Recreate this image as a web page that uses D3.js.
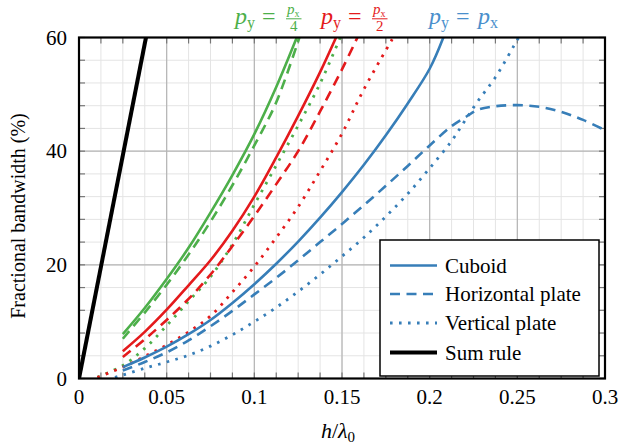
<!DOCTYPE html>
<html><head><meta charset="utf-8">
<script src="https://cdn.jsdelivr.net/npm/d3@7"></script>
<style>body{margin:0;background:#fff} svg{display:block}</style>
</head><body><svg id="c" width="621" height="448"></svg>
<script>
// ---------- data ----------
const xTicks = [0, 0.05, 0.1, 0.15, 0.2, 0.25, 0.3];
const xTickLabels = ["0", "0.05", "0.1", "0.15", "0.2", "0.25", "0.3"];
const yTicks = [0, 20, 40, 60];
const yTickLabels = ["0", "20", "40", "60"];

const sumRule = [[0,0],[0.0382,60]];

const greenCuboid = [[0.025,7.8],[0.0375,12.4],[0.05,17.5],[0.0625,23.0],[0.075,29.2],[0.0875,35.8],[0.1,43.0],[0.1125,51.3],[0.1242,60]];
const greenHoriz = [[0.025,7.0],[0.0375,11.6],[0.05,16.5],[0.0625,21.8],[0.075,27.6],[0.0875,34.0],[0.1,41.0],[0.1125,48.6],[0.1257,60]];
const greenVert = [[0.0105,0.2],[0.025,2.3],[0.0375,5.3],[0.05,9.3],[0.0625,13.6],[0.075,17.9],[0.0875,23.6],[0.1,30.6],[0.1125,37.5],[0.125,44.5],[0.1375,51.9],[0.149,60]];

const redCuboid = [[0.025,4.8],[0.0375,8.2],[0.05,12.1],[0.0625,16.4],[0.075,20.8],[0.0875,26.0],[0.1,32.0],[0.1125,38.9],[0.125,46.2],[0.1375,53.9],[0.1466,60]];
const redHoriz = [[0.025,3.8],[0.0375,6.9],[0.05,10.3],[0.0625,14.0],[0.075,18.3],[0.0875,23.3],[0.1,28.6],[0.1125,34.2],[0.125,40.0],[0.1375,47.0],[0.15,54.4],[0.1588,60]];
const redVert = [[0.0105,0.2],[0.025,2.0],[0.0375,3.9],[0.05,5.9],[0.0625,8.2],[0.075,11.0],[0.0875,15.2],[0.1,19.7],[0.1125,24.8],[0.125,30.2],[0.1375,36.5],[0.15,43.1],[0.1625,50.9],[0.1792,60]];

const blueCuboid = [[0.025,2.0],[0.0375,3.7],[0.05,5.6],[0.0625,7.8],[0.075,10.3],[0.0875,13.3],[0.1,16.6],[0.1125,20.2],[0.125,24.1],[0.1375,28.3],[0.15,32.8],[0.1625,37.6],[0.175,42.8],[0.1875,48.4],[0.2,54.5],[0.2078,60]];
const blueHoriz = [[0.025,1.4],[0.0375,2.9],[0.05,4.6],[0.0625,6.7],[0.075,9.2],[0.0875,11.9],[0.1,14.8],[0.1125,17.7],[0.125,20.8],[0.1375,24.0],[0.15,27.2],[0.1625,30.5],[0.175,33.9],[0.1875,37.4],[0.2,41.0],[0.2125,44.4],[0.221,46.1],[0.2275,47.3],[0.2375,47.9],[0.25,48.1],[0.2625,47.8],[0.275,46.9],[0.2875,45.5],[0.3,43.7]];
const blueVert = [[0.0205,0.2],[0.025,0.6],[0.0375,1.8],[0.05,2.9],[0.0625,4.1],[0.075,5.7],[0.0875,7.7],[0.1,10.0],[0.1125,12.5],[0.125,15.3],[0.1375,18.3],[0.15,21.5],[0.1625,24.8],[0.175,28.5],[0.1875,32.5],[0.2,37.0],[0.2125,41.8],[0.22,45.3],[0.2275,48.8],[0.2375,53.0],[0.25,59.6],[0.2508,60]];

const legendLabels = ["Cuboid", "Horizontal plate", "Vertical plate", "Sum rule"];

// ---------- font: pick an installed serif face ----------
function pickFont() {
  const cands = ["Liberation Serif", "Times New Roman", "Times", "Tinos", "Nimbus Roman", "Nimbus Roman No9 L", "FreeSerif", "DejaVu Serif", "Noto Serif", "Georgia"];
  const ctx = document.createElement("canvas").getContext("2d");
  const s = "Fractional bandwidth 0.05 Horizontal";
  ctx.font = "40px monospace"; const mono = ctx.measureText(s).width;
  ctx.font = "40px sans-serif"; const sans = ctx.measureText(s).width;
  for (const c of cands) {
    ctx.font = "40px '" + c + "', monospace"; const w1 = ctx.measureText(s).width;
    ctx.font = "40px '" + c + "', sans-serif"; const w2 = ctx.measureText(s).width;
    if (w1 !== mono && w2 !== sans) return "'" + c + "', serif";
  }
  return "serif";
}
const FONT = pickFont();

// ---------- styles ----------
const GREEN = "#4daf4a", RED = "#e41a1c", BLUE = "#377eb8";
const DASH = "10,6.5", DOT = "2.6,6.4";
const series = [
  {d: greenCuboid, c: GREEN, dash: null},
  {d: greenHoriz, c: GREEN, dash: DASH},
  {d: greenVert, c: GREEN, dash: DOT},
  {d: redCuboid, c: RED, dash: null},
  {d: redHoriz, c: RED, dash: DASH},
  {d: redVert, c: RED, dash: DOT},
  {d: blueCuboid, c: BLUE, dash: null},
  {d: blueHoriz, c: BLUE, dash: DASH},
  {d: blueVert, c: BLUE, dash: DOT},
];

const svg = d3.select("#c").attr("font-family", FONT);
const L = 79, R = 605, T = 37.5, B = 378.5;
const x = d3.scaleLinear().domain([0, 0.3]).range([L, R]);
const y = d3.scaleLinear().domain([0, 60]).range([B, T]);

// grid
const xMinor = d3.range(0, 0.3001, 0.0125);
const yMinor = d3.range(0, 60.01, 4);
const g = svg.append("g");
g.selectAll(".xm").data(xMinor).enter().append("line")
  .attr("x1", d => x(d)).attr("x2", d => x(d)).attr("y1", T).attr("y2", B)
  .attr("stroke", "#e4e4e4").attr("stroke-width", 1);
g.selectAll(".ym").data(yMinor).enter().append("line")
  .attr("y1", d => y(d)).attr("y2", d => y(d)).attr("x1", L).attr("x2", R)
  .attr("stroke", "#e4e4e4").attr("stroke-width", 1);
g.selectAll(".xM").data(xTicks).enter().append("line")
  .attr("x1", d => x(d)).attr("x2", d => x(d)).attr("y1", T).attr("y2", B)
  .attr("stroke", "#b4b4b4").attr("stroke-width", 1.2);
g.selectAll(".yM").data(yTicks).enter().append("line")
  .attr("y1", d => y(d)).attr("y2", d => y(d)).attr("x1", L).attr("x2", R)
  .attr("stroke", "#b4b4b4").attr("stroke-width", 1.2);

// ticks inside on all sides
const tk = svg.append("g").attr("stroke", "#777").attr("stroke-width", 1.2);
xMinor.forEach(v => {
  tk.append("line").attr("x1", x(v)).attr("x2", x(v)).attr("y1", B).attr("y2", B - 6);
  tk.append("line").attr("x1", x(v)).attr("x2", x(v)).attr("y1", T).attr("y2", T + 6);
});
yMinor.forEach(v => {
  tk.append("line").attr("y1", y(v)).attr("y2", y(v)).attr("x1", L).attr("x2", L + 6);
  tk.append("line").attr("y1", y(v)).attr("y2", y(v)).attr("x1", R).attr("x2", R - 6);
});

// clip
svg.append("clipPath").attr("id", "clip").append("rect")
  .attr("x", L).attr("y", T).attr("width", R - L).attr("height", B - T);

const line = d3.line().x(d => x(d[0])).y(d => y(d[1])).curve(d3.curveCatmullRom.alpha(0.5));
const plot = svg.append("g").attr("clip-path", "url(#clip)");
series.forEach(s => {
  plot.append("path").attr("d", line(s.d)).attr("fill", "none")
    .attr("stroke", s.c).attr("stroke-width", s.dash === DOT ? 2.8 : 2.6)
    .attr("stroke-dasharray", s.dash);
});
plot.append("path").attr("d", d3.line().x(d => x(d[0])).y(d => y(d[1]))(sumRule)).attr("fill", "none")
  .attr("stroke", "#000").attr("stroke-width", 4);

// legend
const lg = svg.append("g");
lg.append("rect").attr("x", 380).attr("y", 240).attr("width", 219).attr("height", 136)
  .attr("fill", "#fff").attr("stroke", "#000").attr("stroke-width", 1.5);
const legStyles = [
  {c: BLUE, dash: null, w: 2.6}, {c: BLUE, dash: DASH, w: 2.6},
  {c: BLUE, dash: DOT, w: 2.8}, {c: "#000", dash: null, w: 4}
];
const rowY = [265.5, 294, 323, 352.5];
legendLabels.forEach((t, i) => {
  lg.append("line").attr("x1", 390).attr("x2", 437).attr("y1", rowY[i]).attr("y2", rowY[i])
    .attr("stroke", legStyles[i].c).attr("stroke-width", legStyles[i].w)
    .attr("stroke-dasharray", legStyles[i].dash);
  lg.append("text").attr("x", 445).attr("y", rowY[i] + 7).attr("font-size", 21).text(t);
});

// frame
svg.append("rect").attr("x", L).attr("y", T).attr("width", R - L).attr("height", B - T)
  .attr("fill", "none").attr("stroke", "#000").attr("stroke-width", 2.2);

// tick labels
svg.selectAll(".xl").data(xTicks).enter().append("text")
  .attr("x", d => x(d)).attr("y", 404).attr("text-anchor", "middle")
  .attr("font-size", 21).text((d, i) => xTickLabels[i]);
svg.selectAll(".yl").data(yTicks).enter().append("text")
  .attr("x", 67).attr("y", d => y(d) + 7).attr("text-anchor", "end")
  .attr("font-size", 21).text((d, i) => yTickLabels[i]);

// axis labels
const xl = svg.append("text").attr("x", 338).attr("y", 438).attr("text-anchor", "middle").attr("font-size", 22);
xl.append("tspan").attr("font-style", "italic").text("h");
xl.append("tspan").text("/");
xl.append("tspan").attr("font-style", "italic").text("λ");
xl.append("tspan").attr("font-size", 15).attr("dy", 4).text("0");

svg.append("text").attr("transform", "translate(25,216) rotate(-90)")
  .attr("text-anchor", "middle").attr("font-size", 20).text("Fractional bandwidth (%)");

// top annotations: each a single text element with absolutely placed tspans
function pEq(x0, color, denom) {
  const gg = svg.append("g").attr("fill", color);
  const t = gg.append("text").attr("font-size", 24);
  t.append("tspan").attr("x", x0).attr("y", 24).attr("font-style", "italic").text("p");
  t.append("tspan").attr("y", 28).attr("font-size", 16).text("y");
  t.append("tspan").attr("x", x0 + 27).attr("y", 24).text("=");
  const fx = x0 + 51;
  if (denom) {
    const np = t.append("tspan").attr("x", fx + 1).attr("y", 14).attr("font-size", 15)
      .attr("font-style", "italic").text("p");
    const nx = t.append("tspan").attr("y", 17).attr("font-size", 10).text("x");
    const nw = np.node().getComputedTextLength() + nx.node().getComputedTextLength();
    t.append("tspan").attr("x", fx + 1.5 + nw / 2).attr("y", 30.5).attr("font-size", 15)
      .attr("text-anchor", "middle").text(denom);
    gg.append("line").attr("x1", fx).attr("x2", fx + nw + 3).attr("y1", 18.8).attr("y2", 18.8)
      .attr("stroke", color).attr("stroke-width", 1);
  } else {
    t.append("tspan").attr("x", fx - 2).attr("y", 24).attr("font-style", "italic").text("p");
    t.append("tspan").attr("y", 28).attr("font-size", 16).text("x");
  }
}
pEq(235, GREEN, "4");
pEq(321, RED, "2");
pEq(429, "#4a8fcc", null);
</script></body></html>
